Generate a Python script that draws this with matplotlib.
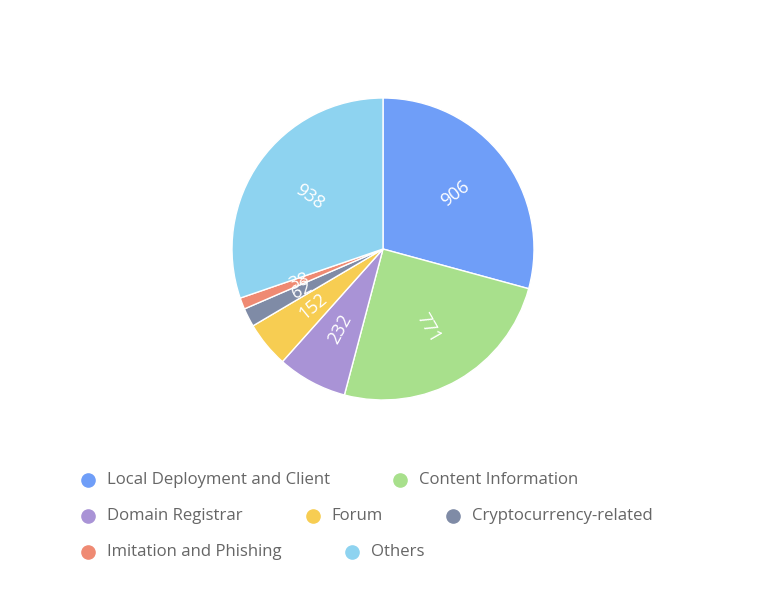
"""Pie chart of site categories with a flowing legend underneath."""

import matplotlib

matplotlib.use("Agg")
import matplotlib.pyplot as plt
import numpy as np

categories = [
    "Local Deployment and Client",
    "Content Information",
    "Domain Registrar",
    "Forum",
    "Cryptocurrency-related",
    "Imitation and Phishing",
    "Others",
]
counts = [906, 771, 232, 152, 62, 38, 938]
colors = ["#6f9ef8", "#a8e08c", "#a993d6", "#f7cd52", "#7f8ba6", "#ef8a73", "#8ed3f0"]
legend_rows = [[0, 1], [2, 3, 4], [5, 6]]

W, H = 765, 615
plt.rcParams["font.family"] = ["Open Sans", "DejaVu Sans"]

fig = plt.figure(figsize=(W / 100, H / 100), dpi=100)
fig.patch.set_facecolor("white")

# pie: centre (383, 249) px, radius 151 px
cx, cy, r = 383, 249, 151
ax = fig.add_axes([(cx - r) / W, (H - cy - r) / H, 2 * r / W, 2 * r / H])
wedges, _ = ax.pie(
    counts,
    colors=colors,
    startangle=90,
    counterclock=False,
    radius=1.0,
    wedgeprops={"edgecolor": "white", "linewidth": 1.0},
)
ax.set_xlim(-1, 1)
ax.set_ylim(-1, 1)
ax.set_aspect("equal")
ax.axis("off")

for wedge, value in zip(wedges, counts):
    mid = (wedge.theta1 + wedge.theta2) / 2
    rad = np.deg2rad(mid)
    rot = ((mid + 180) % 360) - 180
    if rot > 90:
        rot -= 180
    elif rot < -90:
        rot += 180
    ax.text(
        0.6 * np.cos(rad),
        0.6 * np.sin(rad),
        str(value),
        rotation=rot,
        rotation_mode="anchor",
        ha="center",
        va="center",
        fontsize=13,
        color="white",
    )

# legend laid out as a flow of rows
fig.canvas.draw()
renderer = fig.canvas.get_renderer()
row_y = [480, 516, 552]
x_start, gap = 88, 70
for row, y in zip(legend_rows, row_y):
    x = x_start
    for idx in row:
        fig.add_artist(
            plt.Line2D([x / W], [1 - y / H], marker="o", markersize=9.5,
                       color=colors[idx], linestyle="none", transform=fig.transFigure)
        )
        t = fig.text((x + 19) / W, 1 - y / H, categories[idx], fontsize=12.1,
                     color="#666666", ha="left", va="center")
        width = t.get_window_extent(renderer).width
        x = x + 19 + width + gap

fig.savefig("out.png", dpi=100, facecolor="white")
